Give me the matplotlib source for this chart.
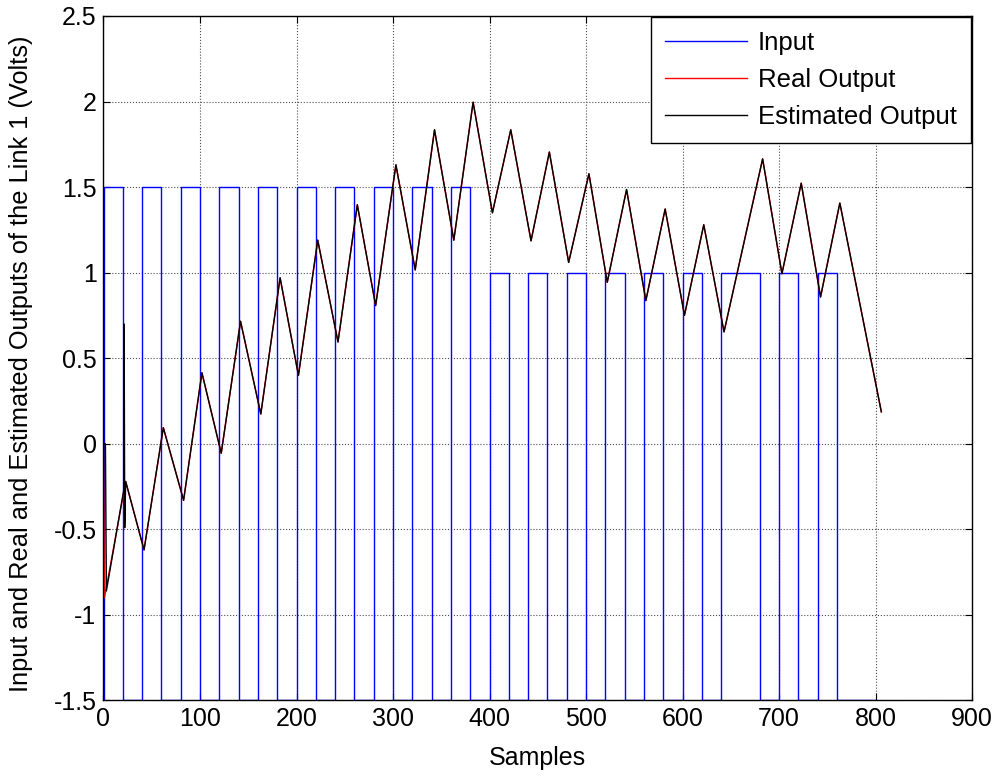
import matplotlib
matplotlib.use("Agg")
import matplotlib.pyplot as plt
from matplotlib import font_manager

# input square wave: sample index where level changes, and the level after it
input_switch = [0, 1, 20, 40, 60, 80, 100, 120, 140, 160, 180, 200, 220, 240, 260,
                280, 300, 320, 340, 360, 380, 400, 420, 440, 460, 480, 500, 520, 540,
                560, 580, 600, 620, 640, 680, 700, 720, 740, 760, 800]
input_levels = [-1.5, 1.5, -1.5, 1.5, -1.5, 1.5, -1.5, 1.5, -1.5, 1.5, -1.5, 1.5, -1.5,
                1.5, -1.5, 1.5, -1.5, 1.5, -1.5, 1.5, -1.5, 1.0, -1.5, 1.0, -1.5, 1.0,
                -1.5, 1.0, -1.5, 1.0, -1.5, 1.0, -1.5, 1.0, -1.5, 1.0, -1.5, 1.0, -1.5,
                -1.5]

# real output: peaks and troughs
real_x = [0, 1, 23, 42, 62, 83, 102, 122, 142, 163, 183, 202, 222, 243, 263, 282, 303,
          323, 343, 363, 383, 403, 422, 443, 462, 482, 503, 522, 542, 562, 582, 602,
          622, 643, 683, 703, 723, 743, 763, 806]
real_y = [0.0, -0.90, -0.22, -0.62, 0.094, -0.33, 0.415, -0.055, 0.716, 0.174, 0.97,
          0.40, 1.19, 0.595, 1.397, 0.808, 1.63, 1.016, 1.835, 1.19, 1.996, 1.35, 1.835,
          1.186, 1.705, 1.06, 1.578, 0.944, 1.486, 0.837, 1.372, 0.751, 1.28, 0.654,
          1.665, 0.994, 1.523, 0.858, 1.407, 0.187]

# estimated output: differs from the real one only at the start (spike near 21)
est_start_x = [0, 2, 3, 21, 21.4, 22]
est_start_y = [0.0, 0.0, -0.86, -0.27, 0.70, -0.49]
est_x = est_start_x + real_x[2:]
est_y = est_start_y + real_y[2:]

xticks = [0, 100, 200, 300, 400, 500, 600, 700, 800, 900]
yticks = [-1.5, -1, -0.5, 0, 0.5, 1, 1.5, 2, 2.5]
ytick_labels = ["-1.5", "-1", "-0.5", "0", "0.5", "1", "1.5", "2", "2.5"]

names = [f.name for f in font_manager.fontManager.ttflist]
if "Liberation Sans Narrow" in names:
    tick_font = "Liberation Sans Narrow"
    tick_size = 22
else:
    tick_font = "Liberation Sans"
    tick_size = 18

plt.rcParams["font.family"] = ["Liberation Sans", "DejaVu Sans"]

fig = plt.figure(figsize=(9.98, 7.76), dpi=100)
ax = fig.add_axes([0.1037, 0.0973, 0.8703, 0.8821])

ax.step(input_switch, input_levels, where="post", color="b", lw=1.0, label="Input")
ax.plot(real_x, real_y, color="r", lw=1.0, label="Real Output")
ax.plot(est_x, est_y, color="k", lw=1.0, label="Estimated Output")

ax.set_xlim(0, 900)
ax.set_ylim(-1.5, 2.5)
ax.set_xticks(xticks)
ax.set_yticks(yticks)
ax.set_yticklabels(ytick_labels)
ax.grid(True, color="0.3", linestyle=":", linewidth=0.8)

ax.tick_params(direction="in", top=True, right=True, length=5, width=0.8, pad=5)
for lab in ax.get_xticklabels() + ax.get_yticklabels():
    lab.set_fontfamily(tick_font)
    lab.set_fontsize(tick_size)
for s in ax.spines.values():
    s.set_linewidth(1.0)

ax.set_xlabel("Samples", fontfamily=tick_font, fontsize=tick_size)
ax.set_ylabel("Input and Real and Estimated Outputs of the Link 1 (Volts)", fontsize=18.3)
ax.xaxis.set_label_coords(0.5, -0.067)
ax.yaxis.set_label_coords(-0.081, 0.4916)

leg = ax.legend(loc="upper right", fontsize=18.5, fancybox=False, framealpha=1,
                edgecolor="k", borderaxespad=0.05, handlelength=3.2,
                handletextpad=0.4, labelspacing=0.5, borderpad=0.55)
leg.get_frame().set_linewidth(1.0)

fig.savefig("out.png", dpi=100)
